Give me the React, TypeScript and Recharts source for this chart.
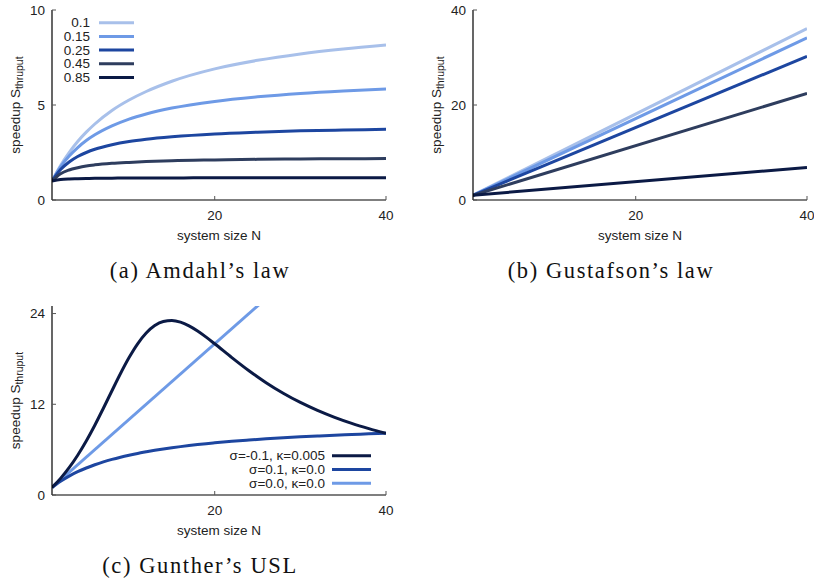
import React from "react";
import { Legend, Line, LineChart, XAxis, YAxis } from "recharts";

// system sizes sampled for the curves
const nGrid = [1, 2, 3, 4, 5, 6, 8, 10, 12, 15, 20, 25, 30, 35, 40];

// (a) Amdahl's law, one list per serial fraction
const amdahlLabels = ["0.1", "0.15", "0.25", "0.45", "0.85"];
const amdahl01 = [1, 1.82, 2.5, 3.08, 3.57, 4, 4.71, 5.26, 5.71, 6.25, 6.9, 7.35, 7.69, 7.95, 8.16];
const amdahl015 = [1, 1.74, 2.31, 2.76, 3.13, 3.43, 3.9, 4.26, 4.53, 4.84, 5.19, 5.43, 5.61, 5.74, 5.84];
const amdahl025 = [1, 1.6, 2, 2.29, 2.5, 2.67, 2.91, 3.08, 3.2, 3.33, 3.48, 3.57, 3.64, 3.68, 3.72];
const amdahl045 = [1, 1.38, 1.58, 1.7, 1.79, 1.85, 1.93, 1.98, 2.02, 2.07, 2.11, 2.14, 2.16, 2.17, 2.18];
const amdahl085 = [1, 1.08, 1.11, 1.12, 1.13, 1.14, 1.15, 1.16, 1.16, 1.16, 1.17, 1.17, 1.17, 1.17, 1.17];

// (b) Gustafson's law, straight lines from N=1 to N=40
const gustN = [1, 40];
const gust01 = [1, 36.1];
const gust015 = [1, 34.15];
const gust025 = [1, 30.25];
const gust045 = [1, 22.45];
const gust085 = [1, 6.85];

// (c) Gunther's USL
const uslN = [1, 2, 3, 4, 5, 6, 7, 8, 9, 10, 11, 12, 13, 14, 15, 16, 17, 18, 19, 20, 22, 24, 26, 28, 30, 32, 34, 36, 38, 40];
const uslPeak = [1, 2.2, 3.61, 5.26, 7.14, 9.23, 11.48, 13.79, 16.07, 18.18, 20, 21.43, 22.41, 22.95, 23.08, 22.86, 22.37, 21.69, 20.88, 20, 18.18, 16.44, 14.86, 13.46, 12.24, 11.19, 10.27, 9.47, 8.78, 8.16];
const uslSerial = [1, 1.82, 2.5, 3.08, 3.57, 4, 4.38, 4.71, 5, 5.26, 5.5, 5.71, 5.91, 6.09, 6.25, 6.4, 6.54, 6.67, 6.79, 6.9, 7.1, 7.27, 7.43, 7.57, 7.69, 7.8, 7.91, 8, 8.09, 8.16];
const uslLinearN = [1, 40];
const uslLinear = [1, 40];
const uslLabels = ["σ=-0.1, κ=0.005", "σ=0.1, κ=0.0", "σ=0.0, κ=0.0"];

const xTicks = [20, 40];
const yTicksA = [0, 5, 10];
const yTicksB = [0, 20, 40];
const yTicksC = [0, 12, 24];

const blues = ["#a8c0ea", "#6e9ae6", "#1d46a0", "#2e3d5e", "#0b1a45"];
const uslColors = ["#0b1a45", "#1d46a0", "#6e9ae6"];

const sans = "'Liberation Sans', Arial, Helvetica, sans-serif";
const serif = "'Liberation Serif', 'Times New Roman', serif";

const amdahlData = nGrid.map((n, i) => ({
  n,
  s01: amdahl01[i],
  s015: amdahl015[i],
  s025: amdahl025[i],
  s045: amdahl045[i],
  s085: amdahl085[i],
}));

const gustData = gustN.map((n, i) => ({
  n,
  s01: gust01[i],
  s015: gust015[i],
  s025: gust025[i],
  s045: gust045[i],
  s085: gust085[i],
}));

const uslData = uslN.map((n, i) => ({ n, peak: uslPeak[i], serial: uslSerial[i] }));
const uslLinearData = uslLinearN.map((n, i) => ({ n, lin: uslLinear[i] }));

const tickStyle = { fontSize: 13.5, fill: "#222", fontFamily: sans };

function YTitle(props: any) {
  const vb = props.viewBox || {};
  const cx = 15;
  const cy = vb.y + vb.height / 2;
  return (
    <text
      x={cx}
      y={cy}
      transform={`rotate(-90 ${cx} ${cy})`}
      textAnchor="middle"
      dominantBaseline="central"
      fontFamily={sans}
      fontSize={13.5}
      fill="#222"
    >
      speedup S
      <tspan fontSize={10.5} dy={4}>
        thruput
      </tspan>
    </text>
  );
}

function XTitle(props: any) {
  const vb = props.viewBox || {};
  return (
    <text
      x={vb.x + vb.width / 2}
      y={vb.y + 40}
      textAnchor="middle"
      fontFamily={sans}
      fontSize={13.5}
      fill="#222"
    >
      system size N
    </text>
  );
}

function makeLegend(labels: string[], colors: string[], textEnd: number, lineX1: number, lineX2: number, rowY: number[]) {
  return () => (
    <svg width={400} height={250} style={{ position: "absolute", left: 0, top: 0 }}>
      {labels.map((l, i) => (
        <g key={l}>
          <text
            x={textEnd}
            y={rowY[i]}
            textAnchor="end"
            dominantBaseline="central"
            fontFamily={sans}
            fontSize={13.5}
            fill="#222"
          >
            {l}
          </text>
          <line x1={lineX1} x2={lineX2} y1={rowY[i]} y2={rowY[i]} stroke={colors[i]} strokeWidth={3} />
        </g>
      ))}
    </svg>
  );
}

const legendRowsA = [22.7, 36.4, 50.1, 63.8, 77.5];
const legendRowsC = [165.7, 179.5, 193.3];

function axes(yTicks: number[], yMax: number, leftWidth: number) {
  return [
    <XAxis
      key="xb"
      xAxisId={0}
      dataKey="n"
      type="number"
      domain={[1, 40]}
      ticks={xTicks}
      allowDataOverflow
      height={40}
      tickSize={-4}
      tickMargin={14}
      tick={tickStyle}
      axisLine={{ stroke: "#000", strokeWidth: 1.2 }}
      tickLine={{ stroke: "#555" }}
      label={<XTitle />}
    />,
    <XAxis
      key="xt"
      xAxisId="top"
      orientation="top"
      dataKey="n"
      type="number"
      domain={[1, 40]}
      ticks={xTicks}
      allowDataOverflow
      height={0}
      tickSize={-4}
      tick={false}
      axisLine={{ stroke: "#000", strokeWidth: 1.2 }}
      tickLine={{ stroke: "#555" }}
    />,
    <YAxis
      key="yl"
      yAxisId={0}
      type="number"
      domain={[0, yMax]}
      ticks={yTicks}
      allowDataOverflow
      width={leftWidth}
      tickSize={-4}
      tickMargin={11}
      tick={tickStyle}
      axisLine={{ stroke: "#000", strokeWidth: 1.2 }}
      tickLine={{ stroke: "#555" }}
      label={<YTitle />}
    />,
    <YAxis
      key="yr"
      yAxisId="right"
      orientation="right"
      type="number"
      domain={[0, yMax]}
      ticks={yTicks}
      allowDataOverflow
      width={0}
      tickSize={-4}
      tick={false}
      axisLine={{ stroke: "#000", strokeWidth: 1.2 }}
      tickLine={{ stroke: "#555" }}
    />,
  ];
}

const captionStyle: React.CSSProperties = {
  position: "absolute",
  fontFamily: serif,
  fontSize: 22.5,
  color: "#111",
  whiteSpace: "nowrap",
  transform: "translate(-50%, -50%)",
  letterSpacing: 1.6,
};

export default function App() {
  const keys = ["s01", "s015", "s025", "s045", "s085"];
  return (
    <div
      style={{
        position: "absolute",
        left: 0,
        top: 0,
        width: 814,
        height: 584,
        overflow: "hidden",
        background: "#fff",
      }}
    >
      <div style={{ position: "absolute", left: 0, top: 0 }}>
        <LineChart width={400} height={250} data={amdahlData} margin={{ top: 10, right: 14, bottom: 10, left: 0 }}>
          {axes(yTicksA, 10, 52)}
          {keys.map((k, i) => (
            <Line
              key={k}
              dataKey={k}
              type="monotone"
              stroke={blues[i]}
              strokeWidth={3}
              dot={false}
              activeDot={false}
              isAnimationActive={false}
            />
          ))}
          <Legend
            layout="vertical"
            align="center"
            verticalAlign="middle"
            wrapperStyle={{ left: 0, top: 0, width: 400, height: 250 }}
            content={makeLegend(amdahlLabels, blues, 90, 99, 134, legendRowsA)}
          />
        </LineChart>
      </div>

      <div style={{ position: "absolute", left: 421, top: 0 }}>
        <LineChart width={393} height={250} data={gustData} margin={{ top: 10, right: 7, bottom: 10, left: 0 }}>
          {axes(yTicksB, 40, 52)}
          {keys.map((k, i) => (
            <Line
              key={k}
              dataKey={k}
              type="linear"
              stroke={blues[i]}
              strokeWidth={3}
              dot={false}
              activeDot={false}
              isAnimationActive={false}
            />
          ))}
        </LineChart>
      </div>

      <div style={{ position: "absolute", left: 0, top: 290 }}>
        <LineChart width={400} height={250} data={uslData} margin={{ top: 16, right: 14, bottom: 5, left: 0 }}>
          {axes(yTicksC, 25, 52)}
          <Line
            data={uslLinearData}
            dataKey="lin"
            type="linear"
            stroke={uslColors[2]}
            strokeWidth={3}
            dot={false}
            activeDot={false}
            isAnimationActive={false}
          />
          <Line
            dataKey="serial"
            type="monotone"
            stroke={uslColors[1]}
            strokeWidth={3}
            dot={false}
            activeDot={false}
            isAnimationActive={false}
          />
          <Line
            dataKey="peak"
            type="monotone"
            stroke={uslColors[0]}
            strokeWidth={3}
            dot={false}
            activeDot={false}
            isAnimationActive={false}
          />
          <Legend
            layout="vertical"
            align="center"
            verticalAlign="middle"
            wrapperStyle={{ left: 0, top: 0, width: 400, height: 250 }}
            content={makeLegend(uslLabels, uslColors, 325, 332, 371, legendRowsC)}
          />
        </LineChart>
      </div>

      <div style={{ ...captionStyle, left: 200, top: 271 }}>(a) Amdahl’s law</div>
      <div style={{ ...captionStyle, left: 611, top: 271 }}>(b) Gustafson’s law</div>
      <div style={{ ...captionStyle, left: 200, top: 566 }}>(c) Gunther’s USL</div>
    </div>
  );
}
